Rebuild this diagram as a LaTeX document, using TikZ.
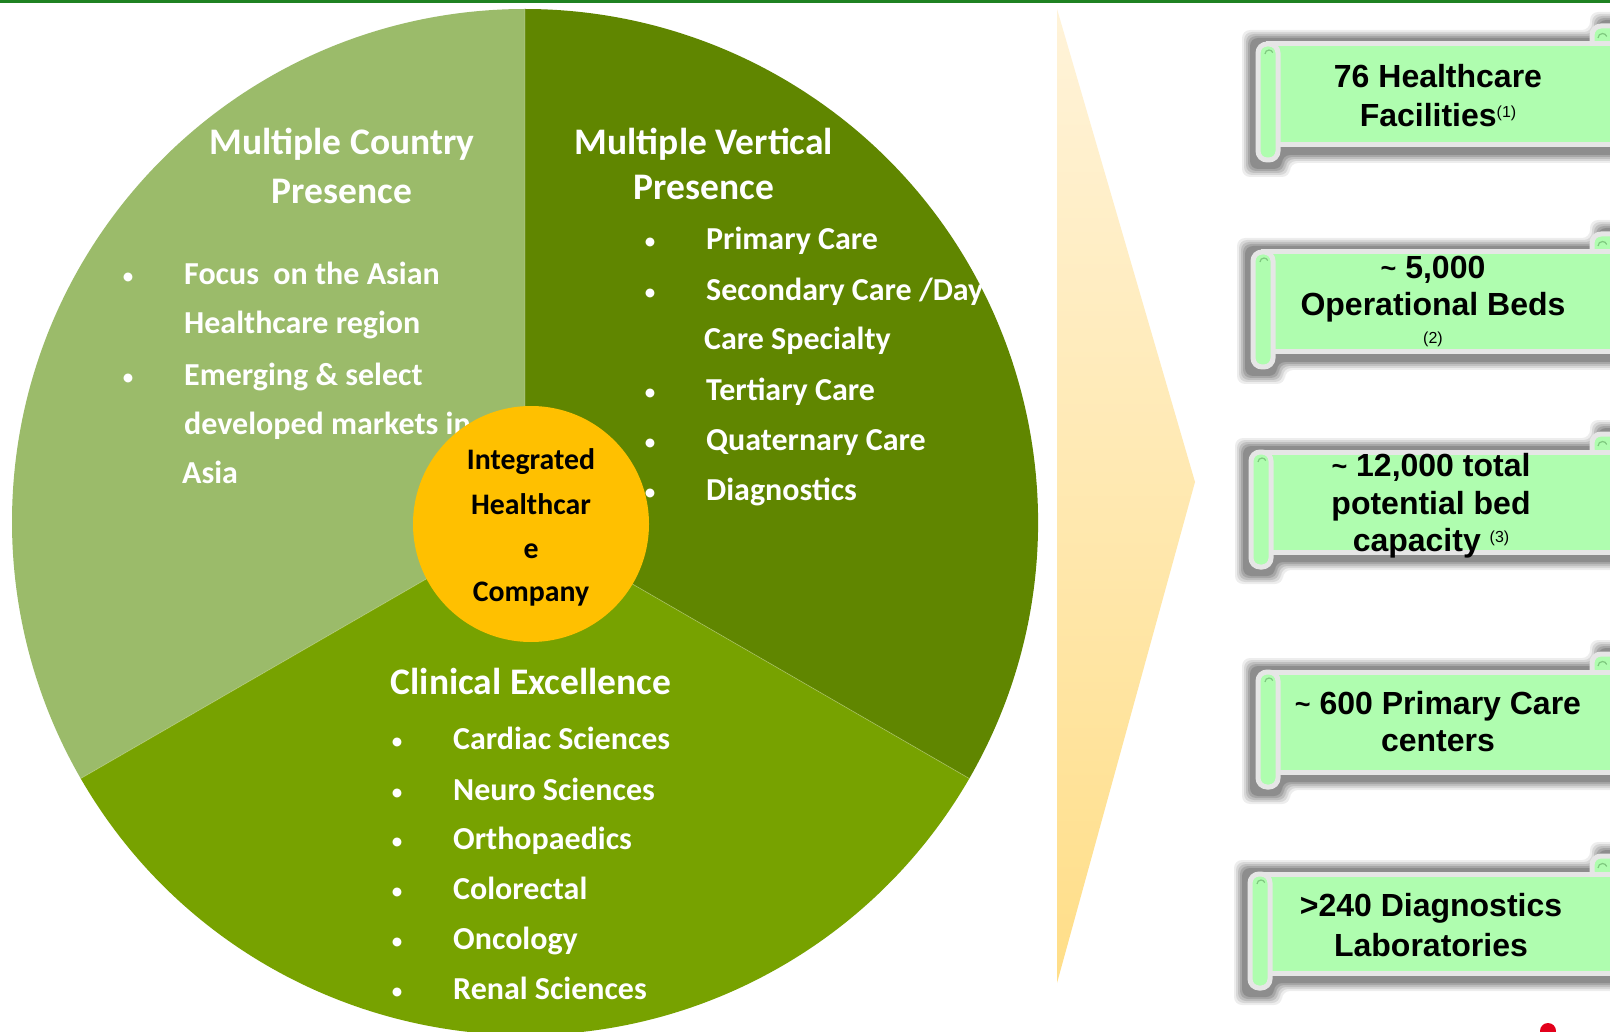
\documentclass[tikz,border=0pt]{standalone}
\usepackage{fontspec}
\setmainfont{Carlito}
\newfontfamily\arialf{Liberation Sans}
\definecolor{clight}{HTML}{9BBB6A}
\definecolor{cdark}{HTML}{608600}
\definecolor{cmid}{HTML}{77A200}
\definecolor{cgold}{HTML}{FFC000}
\definecolor{scrollg}{HTML}{AFFDAF}
\definecolor{scrolle}{HTML}{E6E6E6}
\definecolor{topg}{HTML}{1F8222}
\definecolor{chevtop}{HTML}{FFF3D9}
\definecolor{chevbot}{HTML}{FFDE88}
\definecolor{reddot}{HTML}{E3001B}
\definecolor{curlg}{HTML}{7FC97F}
\tikzset{
  head/.style={text=white,font=\bfseries\fontsize{37.5}{40}\selectfont,anchor=base,inner sep=0},
  body/.style={text=white,font=\bfseries\fontsize{32}{36}\selectfont,anchor=base west,inner sep=0},
  bul/.style={text=white,font=\fontsize{25}{26}\selectfont,anchor=base,inner sep=0},
  ctr/.style={text=black,font=\bfseries\fontsize{29.8}{30}\selectfont,anchor=base,inner sep=0},
  stext/.style={text=black,font=\arialf\bfseries\fontsize{32}{38}\selectfont,anchor=base,inner sep=0},
  ssmall/.style={text=black,font=\arialf\fontsize{16}{18}\selectfont,anchor=base,inner sep=0},
  scrollline/.style={draw=scrolle,line width=5pt,fill=scrollg},
}
\newcommand\tld{{\fontsize{27}{27}\selectfont\raisebox{1pt}{\textasciitilde}}}
% #1 left x, #2 top y, #3 bottom y (positive down)
\newcommand\scrollshape[3]{%
  \foreach \k/\op in {10/0.07,8/0.09,6/0.11,4/0.13,2/0.15}{%
    \fill[black,opacity=\op,rounded corners=8pt]
      (#1-6-\k,-#2+4+\k) -- (1600-\k,-#2+4+\k) -- (1600-\k,-#2+22+\k) -- (1625,-#2+22+\k)
      -- (1625,-#3-8-\k) -- (#1+22+\k,-#3-8-\k) -- (#1+22+\k,-#3-22-\k) -- (#1-6-\k,-#3-22-\k) -- cycle;
  }
  \draw[scrollline,rounded corners=9pt] (1592,-#2+18) rectangle (1630,-#2-6);
  \draw[curlg,line width=1.2pt] (1598,-#2+6) arc[start angle=180,end angle=20,radius=4.5];
  \draw[scrollline] (#1+10,-#2) rectangle (1630,-#3);
  \draw[scrollline,rounded corners=9pt] (#1,-#2) rectangle (#1+20,-#3-15);
  \draw[curlg,line width=1.2pt] (#1+7,-#2-10) arc[start angle=180,end angle=20,radius=4];
}
\begin{document}
\begin{tikzpicture}[x=1pt,y=1pt]
\useasboundingbox (0,0) rectangle (1610,-1032);
\fill[white] (0,0) rectangle (1610,-1032);
% top line
\fill[topg] (0,0) rectangle (1610,-3);
% pie
\coordinate (C) at (525,-522);
\fill[clight] (C) -- ++(90:513) arc[start angle=90,end angle=210,radius=513] -- cycle;
\fill[cdark] (C) -- ++(-30:513) arc[start angle=-30,end angle=90,radius=513] -- cycle;
\fill[cmid] (C) -- ++(210:513) arc[start angle=210,end angle=330,radius=513] -- cycle;
\draw[white,opacity=0.25,line width=0.8pt] (C) -- ++(210:513) (C) -- ++(-30:513) (C) -- ++(90:513);
% chevron
\shade[top color=chevtop,bottom color=chevbot] (1057,-9) -- (1195,-482) -- (1057,-983) -- cycle;
% upper-left text
\node[head] (h1a) at (342,-155) {Multiple Country};
\node[head] (h1b) at (342,-204) {Presence};
\node[bul] (b1a) at (128,-285) {•};
\node[body] (t1a) at (184,-285) {Focus\ \ on the Asian};
\node[body] (t1b) at (184,-334) {Healthcare region};
\node[bul] (b1b) at (128,-385) {•};
\node[body] (t1c) at (184,-385) {Emerging \& select};
\node[body] (t1d) at (184,-434) {developed markets in};
\node[body] (t1e) at (182,-483) {Asia};
% right text
\node[head] (h2a) at (704,-155) {Multiple Vertical};
\node[head] (h2b) at (704,-200) {Presence};
\node[bul] (b2a) at (650,-250) {•};
\node[body] (t2a) at (706,-250) {Primary Care};
\node[bul] (b2b) at (650,-301) {•};
\node[body] (t2b) at (706,-301) {Secondary Care /Day};
\node[body] (t2c) at (704,-350) {Care Specialty};
\node[bul] (b2c) at (650,-400) {•};
\node[body] (t2d) at (706,-400) {Tertiary Care};
\node[bul] (b2d) at (650,-450) {•};
\node[body] (t2e) at (706,-450) {Quaternary Care};
\node[bul] (b2e) at (650,-500) {•};
\node[body] (t2f) at (706,-500) {Diagnostics};
% bottom text
\node[head] (h3) at (531,-694) {Clinical Excellence};
\node[bul] (b3a) at (397,-749) {•};
\node[body] (t3a) at (453,-749) {Cardiac Sciences};
\node[bul] (b3b) at (397,-800) {•};
\node[body] (t3b) at (453,-800) {Neuro Sciences};
\node[bul] (b3c) at (397,-849) {•};
\node[body] (t3c) at (453,-849) {Orthopaedics};
\node[bul] (b3d) at (397,-899) {•};
\node[body] (t3d) at (453,-899) {Colorectal};
\node[bul] (b3e) at (397,-949) {•};
\node[body] (t3e) at (453,-949) {Oncology};
\node[bul] (b3f) at (397,-999) {•};
\node[body] (t3f) at (453,-999) {Renal Sciences};
% center circle
\fill[cgold] (531,-524) circle[radius=118];
\node[ctr] (c1) at (531,-469) {Integrated};
\node[ctr] (c2) at (531,-514) {Healthcar};
\node[ctr] (c3) at (531,-558) {e};
\node[ctr] (c4) at (531,-601) {Company};
% scrolls
\scrollshape{1258}{44}{145}
\node[stext] (s1a) at (1438,-88) {76 Healthcare};
\node[stext] (s1b) at (1438,-127) {Facilities\raisebox{9pt}{\mdseries\fontsize{16}{16}\selectfont(1)}};
\scrollshape{1253}{252}{352}
\node[stext] (s2a) at (1433,-279) {\tld\ 5,000};
\node[stext] (s2b) at (1433,-316) {Operational Beds};
\node[ssmall] (s2c) at (1433,-344) {(2)};
\scrollshape{1251}{452}{552}
\node[stext] (s3a) at (1431,-476) {\tld\ 12,000 total};
\node[stext] (s3b) at (1431,-514) {potential bed};
\node[stext] (s3c) at (1431,-551) {capacity\ \raisebox{9pt}{\mdseries\fontsize{16}{16}\selectfont(3)}};
\scrollshape{1258}{672}{772}
\node[stext] (s4a) at (1438,-714) {\tld\ 600 Primary Care};
\node[stext] (s4b) at (1438,-751) {centers};
\scrollshape{1250}{874}{973}
\node[stext] (s5a) at (1431,-916) {>240 Diagnostics};
\node[stext] (s5b) at (1431,-956) {Laboratories};
% red dot
\fill[reddot] (1548,-1031) circle[radius=8];
\end{tikzpicture}
\end{document}
